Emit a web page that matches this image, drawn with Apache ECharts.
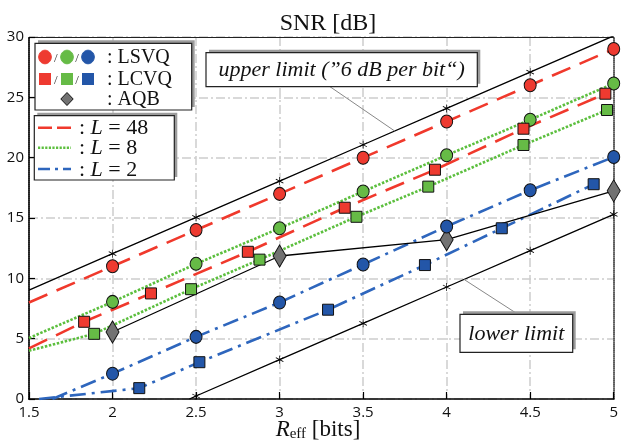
<!DOCTYPE html>
<html><head><meta charset="utf-8">
<script src="https://cdn.jsdelivr.net/npm/echarts@6/dist/echarts.min.js"></script>
<style>html,body{margin:0;padding:0;background:#fff}#c{width:621px;height:443px}</style>
</head><body><div id="c"></div>
<script>
// ---- data ----
const limitX     = [1.5, 2, 2.5, 3, 3.5, 4, 4.5, 5];
const upperLimit = [9.03, 12.04, 15.05, 18.06, 21.07, 24.08, 27.09, 30.1];
const lowerLimitX = [2.46, 2.5, 3, 3.5, 4, 4.5, 5];
const lowerLimit  = [0, 0.25, 3.26, 6.27, 9.28, 12.29, 15.3];

const lsvqX   = [2, 2.5, 3, 3.5, 4, 4.5, 5];
const lsvq48  = [11.0, 14.0, 17.0, 20.0, 23.0, 26.0, 29.0];
const lsvq8   = [8.05, 11.2, 14.15, 17.2, 20.2, 23.15, 26.15];
const lsvq2   = [2.1, 5.15, 8.0, 11.15, 14.3, 17.3, 20.05];

const lcvq48X = [1.83, 2.23, 2.81, 3.39, 3.93, 4.46, 4.95];
const lcvq48  = [6.4, 8.75, 12.2, 15.85, 19.0, 22.4, 25.3];
const lcvq8X  = [1.89, 2.47, 2.88, 3.46, 3.89, 4.46, 4.96];
const lcvq8   = [5.4, 9.1, 11.55, 15.1, 17.6, 21.05, 23.95];
const lcvq2X  = [2.16, 2.52, 3.29, 3.87, 4.33, 4.88];
const lcvq2   = [0.9, 3.05, 7.4, 11.1, 14.15, 17.8];

// start points of the fitted curves (left of the first marker)
const lsvqStart = { l48: [1.5, 8.0], l8: [1.5, 5.05], l2: [1.64, 0] };
const lcvqStart = { l48: [1.5, 4.2], l8: [1.5, 4.0], l2: [1.56, 0] };

const aqbX = [2, 3, 4, 5];
const aqb  = [5.55, 11.85, 13.2, 17.25];

const upperAnchor = [3.69, 22.2];
const lowerAnchor = [4.105, 9.9];

// ---- styling ----
const SERIF = '"Liberation Serif", "Times New Roman", serif';
const SANS = '"Open Sans", "Liberation Sans", sans-serif';
const RED = '#ee3a30', GREEN = '#66bb46', BLUE = '#2356a8', GRAY = '#727272';
const RED_L = '#f0392c', GREEN_L = '#5cbf3e', BLUE_L = '#2e66bd';
const STAR = 'path://M4.6 0H5.4V10H4.6Z M0.42 2.93L9.08 7.93L9.58 7.07L0.92 2.07Z M0.92 7.93L9.58 2.93L9.08 2.07L0.42 7.07Z';

const zip = (xs, ys) => xs.map((x, i) => [x, ys[i]]);

function curve(start, xs, ys, color, dash) {
  return { type: 'line', data: [start].concat(zip(xs, ys)), symbol: 'none', z: 3,
    lineStyle: { color: color, width: 2.6, type: dash }, animation: false };
}
function marks(xs, ys, symbol, color, size) {
  return { type: 'scatter', data: zip(xs, ys), symbol: symbol, symbolSize: size, z: 6,
    itemStyle: { color: color, borderColor: '#111', borderWidth: 1, opacity: 1 }, animation: false };
}
function limit(xs, ys) {
  return { type: 'line', z: 4, showAllSymbol: true, symbol: STAR, symbolSize: 8,
    data: xs.map((x, i) => i === 0 ? { value: [x, ys[i]], symbol: 'none' } : [x, ys[i]]),
    itemStyle: { color: '#000' }, lineStyle: { color: '#000', width: 1.3 }, animation: false };
}

const DASH = [20, 10], DOT = [2.5, 1.6], DASHDOT = [16, 6, 3, 6];

const option = {
  animation: false,
  backgroundColor: '#fff',
  grid: { left: 29, right: 4, top: 37, bottom: 44 },
  xAxis: [{
    type: 'value', min: 1.5, max: 5, interval: 0.5,
    axisLine: { show: true, onZero: false, lineStyle: { color: '#000', width: 1.5 } },
    axisTick: { show: true, inside: true, length: 7, lineStyle: { color: '#000', width: 1.2 } },
    axisLabel: { color: '#111', fontFamily: SANS, fontSize: 15, margin: 6 },
    splitLine: { show: true, lineStyle: { color: '#cdcdcd', width: 1.5, type: [9, 3, 2, 3] } }
  }, {
    type: 'value', min: 1.5, max: 5, position: 'top',
    axisLine: { show: true, onZero: false, lineStyle: { color: '#222', width: 1 } },
    axisTick: { show: false }, axisLabel: { show: false }, splitLine: { show: false }
  }],
  yAxis: [{
    type: 'value', min: 0, max: 30, interval: 5,
    axisLine: { show: true, onZero: false, lineStyle: { color: '#222', width: 2, type: [1, 1] } },
    axisTick: { show: true, inside: true, length: 6, lineStyle: { color: '#000', width: 1.2 } },
    axisLabel: { color: '#111', fontFamily: SANS, fontSize: 15, margin: 5 },
    splitLine: { show: true, lineStyle: { color: '#cdcdcd', width: 1.5, type: [9, 3, 2, 3] } }
  }, {
    type: 'value', min: 0, max: 30, position: 'right',
    axisLine: { show: true, onZero: false, lineStyle: { color: '#333', width: 1.5, type: [1, 1] } },
    axisTick: { show: false }, axisLabel: { show: false }, splitLine: { show: false }
  }],
  series: [
    limit(limitX, upperLimit),
    limit(lowerLimitX, lowerLimit),
    curve(lsvqStart.l48, lsvqX, lsvq48, RED_L, DASH),
    curve(lcvqStart.l48, lcvq48X, lcvq48, RED_L, DASH),
    curve(lsvqStart.l8, lsvqX, lsvq8, GREEN_L, DOT),
    curve(lcvqStart.l8, lcvq8X, lcvq8, GREEN_L, DOT),
    curve(lsvqStart.l2, lsvqX, lsvq2, BLUE_L, DASHDOT),
    curve(lcvqStart.l2, lcvq2X, lcvq2, BLUE_L, DASHDOT),
    { type: 'line', data: zip(aqbX, aqb), z: 5, symbol: 'diamond', symbolSize: [13, 22], showAllSymbol: true,
      itemStyle: { color: GRAY, borderColor: '#111', borderWidth: 1 },
      lineStyle: { color: '#000', width: 1.3 }, animation: false },
    marks(lsvqX, lsvq48, 'circle', RED, [12, 13]),
    marks(lsvqX, lsvq8, 'circle', GREEN, [12, 13]),
    marks(lsvqX, lsvq2, 'circle', BLUE, [12, 13]),
    marks(lcvq48X, lcvq48, 'rect', RED, 11),
    marks(lcvq8X, lcvq8, 'rect', GREEN, 11),
    marks(lcvq2X, lcvq2, 'rect', BLUE, 11)
  ]
};

const chart = echarts.init(document.getElementById('c'));
chart.setOption(option);

// ---- annotations / legend (graphic) ----
function box(x, y, w, h) {
  return [
    { type: 'rect', shape: { x: x + 3, y: y - 3, width: w, height: h }, style: { fill: '#9b9b9b' }, z: 100 },
    { type: 'rect', shape: { x: x, y: y, width: w, height: h }, style: { fill: '#fff', stroke: '#222', lineWidth: 1.2 }, z: 101 }
  ];
}
function txt(x, y, text, size, extra) {
  return Object.assign({ type: 'text', x: x, y: y, z: 102,
    style: Object.assign({ text: text, fontFamily: SERIF, fontSize: size, fill: '#111', align: 'left', verticalAlign: 'middle' }, extra || {}) });
}
const g = [];
// title
g.push(txt(328, 23.5, 'SNR [dB]', 24, { align: 'center' }));
// x axis name
g.push(txt(318, 430, '{i|R}{s|eff}{n| [bits]}', 23, { align: 'center', rich: {
  i: { fontFamily: SERIF, fontStyle: 'italic', fontSize: 23, fill: '#111' },
  s: { fontFamily: SERIF, fontSize: 15, fill: '#111', padding: [9, 0, 0, 0] },
  n: { fontFamily: SERIF, fontSize: 23, fill: '#111' } } }));

// legend box 1
g.push(...box(35, 43.3, 156.7, 66.7));
[[45, RED], [67, GREEN], [88, BLUE]].forEach(([cx, c]) => {
  g.push({ type: 'ellipse', shape: { cx: cx, cy: 57, rx: 6.3, ry: 6.8 }, style: { fill: c, stroke: c }, z: 103 });
  g.push({ type: 'rect', shape: { x: cx - 6, y: 73, width: 12, height: 12 }, style: { fill: c }, z: 103 });
});
[55.7, 77].forEach(sx => {
  g.push(txt(sx, 59, '/', 13, { align: 'center', fill: '#333' }));
  g.push(txt(sx, 81, '/', 13, { align: 'center', fill: '#333' }));
});
g.push({ type: 'polygon', shape: { points: [[67, 92.5], [73.2, 99], [67, 105.5], [60.8, 99]] }, style: { fill: GRAY, stroke: '#111', lineWidth: 1 }, z: 103 });
g.push(txt(107, 57.5, ': LSVQ', 20));
g.push(txt(107, 79.5, ': LCVQ', 20));
g.push(txt(107, 99.5, ': AQB', 20));

// legend box 2
g.push(...box(34.3, 115.7, 140, 64.3));
const lrows = [[127.7, RED_L, [14, 5], '48'], [147.7, GREEN_L, [2.2, 1.4], '8'], [169, BLUE_L, [12, 5, 3, 5], '2']];
lrows.forEach(([y, c, d, v]) => {
  g.push({ type: 'line', shape: { x1: 38, y1: y, x2: 71, y2: y }, style: { stroke: c, lineWidth: 2.6, lineDash: d }, z: 103 });
  g.push(txt(79, y + 1, '{a|: }{b|L}{a| = ' + v + '}', 22, { rich: {
    a: { fontFamily: SERIF, fontSize: 22, fill: '#111' },
    b: { fontFamily: SERIF, fontStyle: 'italic', fontSize: 22, fill: '#111' } } }));
});

// upper limit annotation
const pu = chart.convertToPixel({ xAxisIndex: 0, yAxisIndex: 0 }, upperAnchor);
g.push({ type: 'line', shape: { x1: 330, y1: 86.7, x2: pu[0], y2: pu[1] }, style: { stroke: '#888', lineWidth: 1 }, z: 99 });
g.push(...box(206, 52.7, 271.3, 34));
g.push(txt(341.6, 70, 'upper limit (\u201D6 dB per bit\u201C)', 22, { align: 'center', fontStyle: 'italic' }));

// lower limit annotation
const pl = chart.convertToPixel({ xAxisIndex: 0, yAxisIndex: 0 }, lowerAnchor);
g.push({ type: 'line', shape: { x1: 518, y1: 314.3, x2: pl[0], y2: pl[1] }, style: { stroke: '#888', lineWidth: 1 }, z: 99 });
g.push(...box(460, 314.3, 112.7, 38));
g.push(txt(516.3, 334, 'lower limit', 22, { align: 'center', fontStyle: 'italic' }));

chart.setOption({ graphic: { elements: g } });
</script>
</body></html>
